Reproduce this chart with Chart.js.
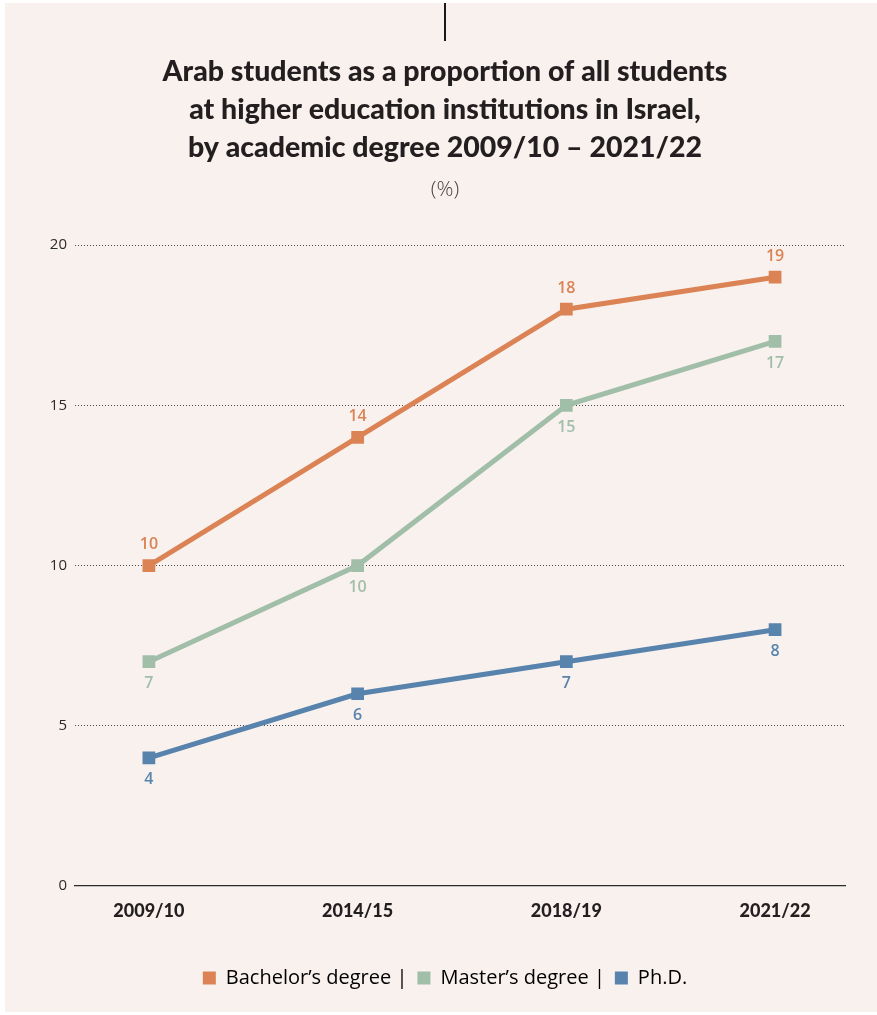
<!DOCTYPE html>
<html>
<head>
<meta charset="utf-8">
<script src="https://cdn.jsdelivr.net/npm/chart.js@4/dist/chart.umd.min.js"></script>
<style>
  body { margin: 0; background: #ffffff; }
  #panel { position: absolute; left: 5px; top: 3px; width: 872px; height: 1009px; background: #f9f1ee; }
  #mark { position: absolute; left: 439px; top: 0; width: 2px; height: 38px; background: #1a1a1a; }
  canvas { position: absolute; left: 0; top: 0; }
</style>
</head>
<body>
<div id="panel">
  <div id="mark"></div>
  <canvas id="myChart" width="872" height="1009"></canvas>
</div>
<script>
const categories = ['2009/10', '2014/15', '2018/19', '2021/22'];
const bachelors = [10, 14, 18, 19];
const masters = [7, 10, 15, 17];
const phd = [4, 6, 7, 8];
const yTicks = [0, 5, 10, 15, 20];
const seriesNames = ['Bachelor’s degree', 'Master’s degree', 'Ph.D.'];

const ORANGE = '#db8354';
const GREEN = '#a1bea9';
const BLUE = '#5783ad';
const FONT = 'Lato, "Open Sans", sans-serif';
const BODY_FONT = '"Open Sans", Lato, sans-serif';

function points(values) {
    return values.map((v, i) => ({ x: i, y: v }));
}

// value labels above or below each point
const valueLabels = {
    id: 'valueLabels',
    afterDatasetsDraw(chart) {
        const ctx = chart.ctx;
        chart.data.datasets.forEach((ds, di) => {
            const meta = chart.getDatasetMeta(di);
            ctx.save();
            ctx.font = '600 16px ' + BODY_FONT;
            ctx.fillStyle = ds.borderColor;
            ctx.textAlign = 'center';
            ctx.textBaseline = 'middle';
            meta.data.forEach((pt, i) => {
                const dy = ds.labelSide === 'top' ? -21 : 22;
                ctx.fillText(String(ds.data[i].y), pt.x, pt.y + dy);
            });
            ctx.restore();
        });
    }
};

const ctx = document.getElementById('myChart');
const myChart = new Chart(ctx, {
    type: 'line',
    data: {
        datasets: [
            { label: seriesNames[0], data: points(bachelors), borderColor: ORANGE, backgroundColor: ORANGE, labelSide: 'top' },
            { label: seriesNames[1], data: points(masters), borderColor: GREEN, backgroundColor: GREEN, labelSide: 'bottom' },
            { label: seriesNames[2], data: points(phd), borderColor: BLUE, backgroundColor: BLUE, labelSide: 'bottom' }
        ]
    },
    options: {
        responsive: false,
        animation: false,
        layout: { padding: { left: 40, right: 32, top: 0, bottom: 14 } },
        elements: {
            line: { borderWidth: 5, tension: 0 },
            point: { pointStyle: 'rect', radius: 9, borderWidth: 0, hoverRadius: 9 }
        },
        scales: {
            x: {
                type: 'linear',
                min: -0.354,
                max: 3.335,
                afterBuildTicks: (scale) => { scale.ticks = categories.map((c, i) => ({ value: i })); },
                afterFit: (scale) => { scale.height = 72; },
                grid: { display: false, drawTicks: false },
                border: { display: true, color: '#2b2b2b', width: 1.3 },
                ticks: {
                    padding: 14,
                    color: '#231f20',
                    font: { family: FONT, size: 18, weight: 900 },
                    callback: (v) => categories[v]
                }
            },
            y: {
                min: 0,
                max: 20,
                afterBuildTicks: (scale) => { scale.ticks = yTicks.map(v => ({ value: v })); },
                afterFit: (scale) => { scale.width = 30; },
                grid: {
                    drawTicks: false,
                    lineWidth: 1,
                    color: (c) => c.tick && c.tick.value === 0 ? 'rgba(0,0,0,0)' : '#4a4a4a'
                },
                border: { display: false, dash: [1, 2] },
                ticks: {
                    padding: 8,
                    color: '#2b2b2b',
                    font: { family: BODY_FONT, size: 15 }
                }
            }
        },
        plugins: {
            tooltip: { enabled: false },
            title: {
                display: true,
                text: [
                    'Arab students as a proportion of all students',
                    'at higher education institutions in Israel,',
                    'by academic degree 2009/10 – 2021/22'
                ],
                color: '#231f20',
                font: { family: FONT, size: 28.5, weight: 900, lineHeight: 1.3333 },
                padding: { top: 50, bottom: 11 }
            },
            subtitle: {
                display: true,
                text: '(%)',
                color: '#444444',
                font: { family: BODY_FONT, size: 21, weight: 300, lineHeight: 1.15 },
                padding: { top: 0, bottom: 43 }
            },
            legend: {
                position: 'bottom',
                labels: {
                    boxWidth: 13,
                    boxHeight: 13,
                    padding: 10,
                    color: '#2b2b2b',
                    font: { family: BODY_FONT, size: 20 },
                    generateLabels: (chart) => chart.data.datasets.map((ds, i) => ({
                        text: i < chart.data.datasets.length - 1 ? ds.label + ' |' : ds.label,
                        fillStyle: ds.borderColor,
                        strokeStyle: ds.borderColor,
                        lineWidth: 0,
                        datasetIndex: i
                    }))
                }
            }
        }
    },
    plugins: [valueLabels]
});
</script>
</body>
</html>
